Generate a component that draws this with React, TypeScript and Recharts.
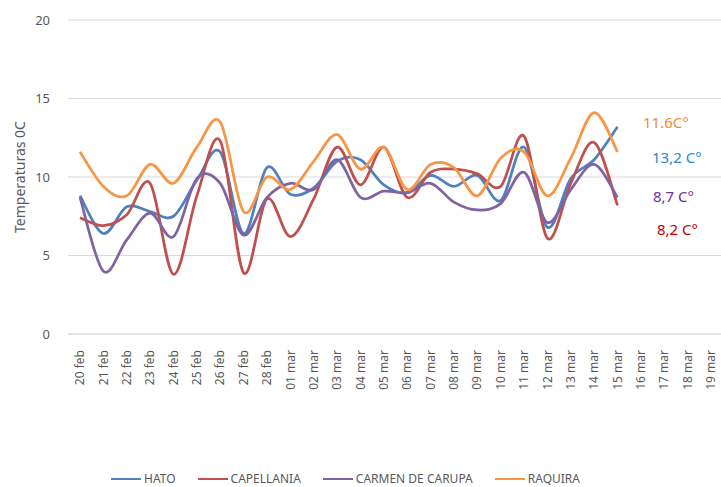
import React from 'react';
import { LineChart, Line, XAxis, YAxis, CartesianGrid, Legend } from 'recharts';

const dates = [
  '20 feb', '21 feb', '22 feb', '23 feb', '24 feb', '25 feb', '26 feb', '27 feb', '28 feb',
  '01 mar', '02 mar', '03 mar', '04 mar', '05 mar', '06 mar', '07 mar', '08 mar', '09 mar', '10 mar',
  '11 mar', '12 mar', '13 mar', '14 mar', '15 mar', '16 mar', '17 mar', '18 mar', '19 mar',
];

const hato = [8.8, 6.4, 8.1, 7.8, 7.5, 9.8, 11.6, 6.4, 10.6, 8.9, 9.3, 11.0, 11.1, 9.5, 9.0, 10.1, 9.4, 10.1, 8.5, 11.9, 6.8, 9.9, 11.1, 13.2, null, null, null, null];
const capellania = [7.4, 6.9, 7.6, 9.6, 3.8, 8.8, 12.3, 3.9, 8.6, 6.2, 8.6, 11.9, 9.5, 11.9, 8.7, 10.3, 10.5, 10.2, 9.4, 12.6, 6.1, 9.6, 12.2, 8.2, null, null, null, null];
const carmen = [8.7, 4.0, 6.0, 7.7, 6.2, 9.9, 9.6, 6.3, 8.7, 9.6, 9.2, 11.1, 8.7, 9.1, 9.0, 9.6, 8.4, 7.9, 8.3, 10.3, 7.1, 9.2, 10.8, 8.7, null, null, null, null];
const raquira = [11.6, 9.4, 8.8, 10.8, 9.6, 11.9, 13.5, 7.8, 10.0, 9.2, 11.0, 12.7, 10.5, 11.9, 9.2, 10.8, 10.6, 8.8, 11.2, 11.6, 8.8, 11.2, 14.1, 11.6, null, null, null, null];

const yTicks = [0, 5, 10, 15, 20];

const series = [
  { key: 'hato', name: 'HATO', color: '#4F81BD' },
  { key: 'capellania', name: 'CAPELLANIA', color: '#C0504D' },
  { key: 'carmen', name: 'CARMEN DE CARUPA', color: '#8064A2' },
  { key: 'raquira', name: 'RAQUIRA', color: '#F79646' },
];

const notes = [
  { text: '11.6C°', color: '#F08A2C', left: 643, top: 112 },
  { text: '13,2 C°', color: '#2E86CF', left: 652, top: 147 },
  { text: '8,7 C°', color: '#7030A0', left: 653, top: 186 },
  { text: '8,2 C°', color: '#C00000', left: 657, top: 219 },
];

const data = dates.map((d, i) => ({
  date: d,
  hato: hato[i],
  capellania: capellania[i],
  carmen: carmen[i],
  raquira: raquira[i],
}));

// smoothed line like the spreadsheet one (catmull-rom style beziers)
function smoothCurve(context: any) {
  let pts: number[][] = [];
  return {
    areaStart() {},
    areaEnd() {},
    lineStart() { pts = []; },
    lineEnd() {
      if (!pts.length) return;
      context.moveTo(pts[0][0], pts[0][1]);
      for (let i = 0; i < pts.length - 1; i++) {
        const p0 = pts[i - 1] || pts[i];
        const p1 = pts[i];
        const p2 = pts[i + 1];
        const p3 = pts[i + 2] || p2;
        context.bezierCurveTo(
          p1[0] + (p2[0] - p0[0]) / 6, p1[1] + (p2[1] - p0[1]) / 6,
          p2[0] - (p3[0] - p1[0]) / 6, p2[1] - (p3[1] - p1[1]) / 6,
          p2[0], p2[1],
        );
      }
    },
    point(x: number, y: number) { pts.push([x, y]); },
  };
}

const FONT = '"Noto Sans", "Open Sans", sans-serif';

const DateTick = ({ x, y, payload }: any) => (
  <text
    transform={`translate(${x},${y + 8}) rotate(-90)`}
    textAnchor="end"
    dy="0.35em"
    fontSize={12}
    fill="#595959"
    fontFamily={FONT}
  >
    {payload.value}
  </text>
);

const LegendContent = () => (
  <div style={{ display: 'flex', justifyContent: 'center', gap: 22, paddingRight: 30, fontFamily: FONT, fontSize: 12, color: '#595959', lineHeight: '16px' }}>
    {series.map(s => (
      <div key={s.key} style={{ display: 'flex', alignItems: 'center' }}>
        <span style={{ display: 'inline-block', width: 30, height: 2, background: s.color, marginRight: 3 }}></span>
        <span>{s.name}</span>
      </div>
    ))}
  </div>
);

export default function App() {
  return (
    <div style={{ position: 'absolute', left: 0, top: 0, width: 721, height: 487, background: '#fff' }}>
      <LineChart width={721} height={487} data={data} margin={{ top: 20, right: 0, bottom: 0, left: 0 }}>
        <CartesianGrid vertical={false} stroke="#d9d9d9" />
        <XAxis
          dataKey="date"
          interval={0}
          tick={<DateTick />}
          tickLine={false}
          axisLine={{ stroke: '#d9d9d9' }}
          padding={{ left: 12, right: 10 }}
          height={137}
        />
        <YAxis
          domain={[0, 20]}
          ticks={yTicks}
          width={68}
          tickLine={false}
          axisLine={false}
          tickMargin={12}
          tick={{ fontSize: 13, fill: '#595959', fontFamily: FONT }}
          label={{ value: 'Temperaturas  0C', angle: -90, position: 'insideLeft', offset: 20, style: { fontSize: 14, fill: '#595959', fontFamily: FONT, textAnchor: 'middle' } }}
        />
        {series.map(s => (
          <Line
            key={s.key}
            dataKey={s.key}
            name={s.name}
            type={smoothCurve as any}
            stroke={s.color}
            strokeWidth={2.75}
            dot={false}
            activeDot={false}
            isAnimationActive={false}
          />
        ))}
        <Legend verticalAlign="bottom" height={16} content={<LegendContent />} />
      </LineChart>
      {notes.map(n => (
        <div key={n.text} style={{ position: 'absolute', left: n.left, top: n.top, color: n.color, fontFamily: FONT, fontSize: 15, lineHeight: '20px', whiteSpace: 'nowrap' }}>
          {n.text}
        </div>
      ))}
    </div>
  );
}
